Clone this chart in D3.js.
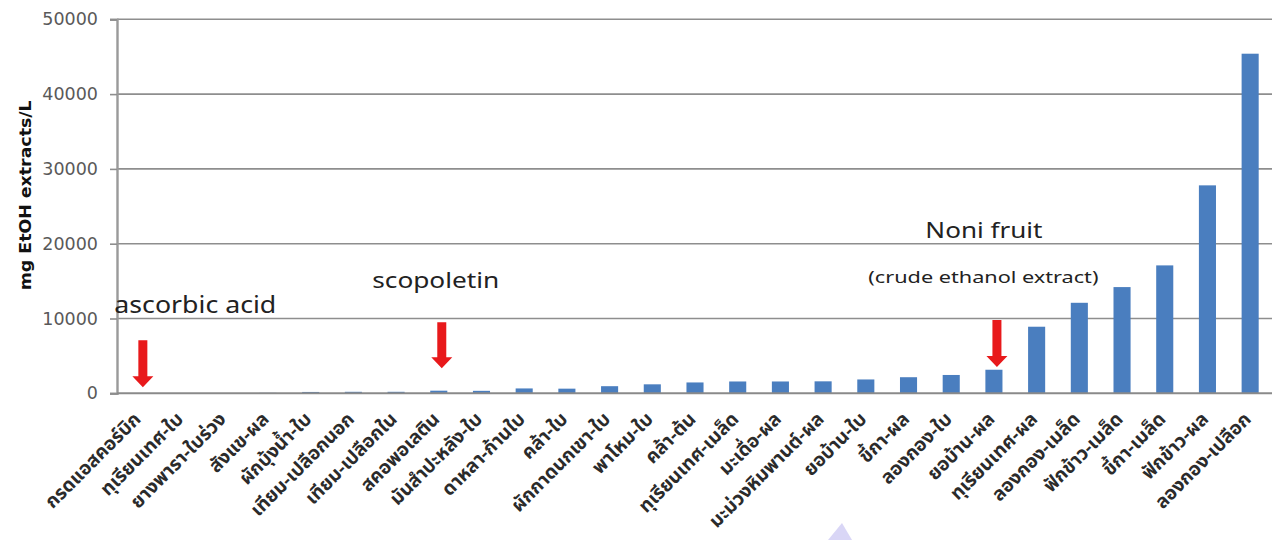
<!DOCTYPE html>
<html>
<head>
<meta charset="utf-8">
<script src="https://cdn.jsdelivr.net/npm/d3@7"></script>
<style>
  html, body { margin: 0; padding: 0; background: #fff; }
  svg { display: block; }
</style>
</head>
<body>
<svg id="chart" width="1273" height="540"></svg>
<script>
// Samples, ordered by antioxidant value
const categories = [
  "กรดแอสคอร์บิก", "ทุเรียนเทศ-ใบ", "ยางพารา-ใบร่วง", "สังแข-ผล", "ผักบุ้งน้ำ-ใบ",
  "เทียม-เปลือกนอก", "เทียม-เปลือกใน", "สคอพอเลติน", "มันสำปะหลัง-ใบ", "ดาหลา-ก้านใบ",
  "คล้า-ใบ", "ผักกาดนกเขา-ใบ", "พาโหม-ใบ", "คล้า-ต้น", "ทุเรียนเทศ-เมล็ด",
  "มะเดื่อ-ผล", "มะม่วงหิมพานต์-ผล", "ยอบ้าน-ใบ", "ขี้กา-ผล", "ลองกอง-ใบ",
  "ยอบ้าน-ผล", "ทุเรียนเทศ-ผล", "ลองกอง-เมล็ด", "ฟักข้าว-เมล็ด", "ขี้กา-เมล็ด",
  "ฟักข้าว-ผล", "ลองกอง-เปลือก"
];

// mg EtOH extracts/L
const values = [
  0, 20, 40, 60, 180,
  200, 200, 350, 330, 650,
  620, 950, 1200, 1450, 1580,
  1580, 1600, 1850, 2150, 2450,
  3150, 8900, 12100, 14200, 17100,
  27800, 45400
];

const yTicks = [0, 10000, 20000, 30000, 40000, 50000];
const yTitle = "mg EtOH extracts/L";

// Red arrows: target sample, arrow top and tip in axis units
const arrowTargets = ["กรดแอสคอร์บิก", "สคอพอเลติน", "ยอบ้าน-ผล"];
const arrowTops = [7100, 9500, 9800];
const arrowTips = [800, 3350, 3500];

// Text notes: anchor sample and vertical level in axis units
const noteTexts = ["ascorbic acid", "scopoletin", "Noni fruit", "(crude ethanol extract)"];
const noteSamples = ["กรดแอสคอร์บิก", "สคอพอเลติน", "ยอบ้าน-ผล", "ยอบ้าน-ผล"];
const noteLevels = [10750, 14050, 20750, 14750];

const svg = d3.select("#chart");

const x = d3.scaleBand()
  .domain(categories)
  .range([118.5, 1271.5])
  .paddingInner(0.6)
  .paddingOuter(0.3);

const y = d3.scaleLinear()
  .domain([0, 50000])
  .range([393.3, 19.3]);

const axisX = 117;
const rightX = 1272;

// Horizontal gridlines
svg.append("g")
  .selectAll("line")
  .data(yTicks.filter(t => t > 0))
  .join("line")
  .attr("x1", axisX)
  .attr("x2", rightX)
  .attr("y1", d => y(d))
  .attr("y2", d => y(d))
  .attr("stroke", "#8e8e8e")
  .attr("stroke-width", 1.6);

// Y axis with ticks on the left
const yAxis = d3.axisLeft(y)
  .tickValues(yTicks)
  .tickSize(7)
  .tickPadding(12)
  .tickFormat(d3.format("d"));

const gy = svg.append("g")
  .attr("transform", `translate(${axisX},0)`)
  .call(yAxis);
gy.select(".domain").attr("stroke", "#9a9a9a").attr("stroke-width", 2.4);
gy.selectAll(".tick line").attr("stroke", "#8e8e8e").attr("stroke-width", 1.6);
gy.selectAll(".tick text")
  .attr("fill", "#595959")
  .style("font-family", "'DejaVu Sans', sans-serif")
  .style("font-size", "17.5px");

// Bars
svg.append("g")
  .selectAll("rect")
  .data(categories.map((c, i) => ({ c, v: values[i] })))
  .join("rect")
  .attr("x", d => x(d.c))
  .attr("width", x.bandwidth())
  .attr("y", d => y(d.v))
  .attr("height", d => y(0) - y(d.v))
  .attr("fill", "#4a7ebf");

// Baseline
svg.append("line")
  .attr("x1", axisX)
  .attr("x2", rightX)
  .attr("y1", y(0))
  .attr("y2", y(0))
  .attr("stroke", "#8a8a8a")
  .attr("stroke-width", 2);

// Category labels, rotated
svg.append("g")
  .selectAll("text")
  .data(categories)
  .join("text")
  .attr("transform", d => `translate(${x(d) + x.bandwidth() / 2 + 2},${y(0) + 27}) rotate(-45)`)
  .attr("text-anchor", "end")
  .attr("fill", "#2b2b2b")
  .style("font-family", "'Noto Sans Thai', 'Noto Sans', sans-serif")
  .style("font-weight", "700")
  .style("font-size", "19px")
  .text(d => d);

// Y axis title
svg.append("text")
  .attr("transform", `translate(31,${(y(50000) + y(0)) / 2 - 11}) rotate(-90)`)
  .attr("text-anchor", "middle")
  .attr("textLength", 190)
  .attr("lengthAdjust", "spacingAndGlyphs")
  .attr("fill", "#111")
  .style("font-family", "'DejaVu Sans', sans-serif")
  .style("font-weight", "bold")
  .style("font-size", "15px")
  .text(yTitle);

// Red arrows
const arrows = svg.append("g");
arrowTargets.forEach((t, i) => {
  const cx = x(t) + x.bandwidth() / 2 + 3;
  const top = y(arrowTops[i]);
  const tip = y(arrowTips[i]);
  const headLen = 11, shaftHalf = 4.5, headHalf = 10.5;
  arrows.append("path")
    .attr("d", [
      ["M", cx - shaftHalf, top],
      ["L", cx + shaftHalf, top],
      ["L", cx + shaftHalf, tip - headLen],
      ["L", cx + headHalf, tip - headLen],
      ["L", cx, tip],
      ["L", cx - headHalf, tip - headLen],
      ["L", cx - shaftHalf, tip - headLen],
      ["Z"]
    ].map(s => s.join(" ")).join(" "))
    .attr("fill", "#e8191b");
});

// Text notes
const noteStyle = [
  { dx: -17, size: 23, len: 162 },
  { dx: -58, size: 21, len: 127 },
  { dx: -60, size: 22, len: 117 },
  { dx: -117, size: 16.5, len: 230 }
];
noteTexts.forEach((t, i) => {
  const s = noteStyle[i];
  svg.append("text")
    .attr("x", x(noteSamples[i]) + s.dx)
    .attr("y", y(noteLevels[i]))
    .attr("textLength", s.len)
    .attr("lengthAdjust", "spacingAndGlyphs")
    .attr("fill", "#222")
    .style("font-family", "'Noto Sans', sans-serif")
    .style("font-size", s.size + "px")
    .text(t);
});

// Faint watermark fragment at the lower edge
svg.append("path")
  .attr("d", "M828 540 L842 523 L852 540 Z")
  .attr("fill", "#cfccf4")
  .attr("opacity", 0.8);
</script>
</body>
</html>
